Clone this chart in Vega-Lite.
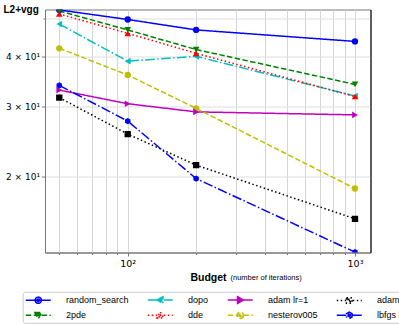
{
  "$schema": "https://vega.github.io/schema/vega-lite/v6.json",
  "width": 325.5,
  "height": 243,
  "autosize": {"type": "none"},
  "padding": {"left": 45, "top": 9.5, "right": 28.5, "bottom": 73.5},
  "background": "white",
  "config": {"view": {"stroke": "#777777", "strokeWidth": 1}, "font": "Liberation Sans"},
  "data": {
    "values": [
      {"series": "random_search", "budget": 50, "value": 52.4},
      {"series": "random_search", "budget": 100, "value": 49.6},
      {"series": "random_search", "budget": 200, "value": 46.7},
      {"series": "random_search", "budget": 1000, "value": 43.7},
      {"series": "2pde", "budget": 50, "value": 52.1},
      {"series": "2pde", "budget": 100, "value": 46.7},
      {"series": "2pde", "budget": 200, "value": 41.7},
      {"series": "2pde", "budget": 1000, "value": 34.1},
      {"series": "dopo", "budget": 50, "value": 48.3},
      {"series": "dopo", "budget": 100, "value": 39.0},
      {"series": "dopo", "budget": 200, "value": 40.1},
      {"series": "dopo", "budget": 1000, "value": 31.9},
      {"series": "dde", "budget": 50, "value": 51.2},
      {"series": "dde", "budget": 100, "value": 45.8},
      {"series": "dde", "budget": 200, "value": 40.8},
      {"series": "dde", "budget": 1000, "value": 31.8},
      {"series": "adam lr=1", "budget": 50, "value": 33.0},
      {"series": "adam lr=1", "budget": 100, "value": 30.5},
      {"series": "adam lr=1", "budget": 200, "value": 29.1},
      {"series": "adam lr=1", "budget": 1000, "value": 28.6},
      {"series": "nesterov005", "budget": 50, "value": 42.0},
      {"series": "nesterov005", "budget": 100, "value": 36.0},
      {"series": "nesterov005", "budget": 200, "value": 29.7},
      {"series": "nesterov005", "budget": 1000, "value": 18.7},
      {"series": "adam lr=005", "budget": 50, "value": 31.6},
      {"series": "adam lr=005", "budget": 100, "value": 25.6},
      {"series": "adam lr=005", "budget": 200, "value": 21.4},
      {"series": "adam lr=005", "budget": 1000, "value": 15.7},
      {"series": "lbfgs lr=1", "budget": 50, "value": 33.9},
      {"series": "lbfgs lr=1", "budget": 100, "value": 27.6},
      {"series": "lbfgs lr=1", "budget": 200, "value": 19.8},
      {"series": "lbfgs lr=1", "budget": 1000, "value": 12.95}
    ]
  },
  "resolve": {"axis": {"x": "independent", "y": "independent"}},
  "layer": [
    {
      "mark": {"type": "line", "strokeWidth": 1.5, "clip": true},
      "encoding": {
        "x": {
          "field": "budget", "type": "quantitative",
          "scale": {"type": "log", "domain": [43.27, 1170], "nice": false, "zero": false},
          "axis": {
            "values": [50, 60, 70, 80, 90, 100, 200, 300, 400, 500, 600, 700, 800, 900, 1000],
            "labelExpr": "datum.value == 100 ? '10²' : datum.value == 1000 ? '10³' : ''",
            "grid": true, "gridColor": "#d6d6d6", "gridWidth": 1,
            "tickColor": "#777777",
            "tickSize": {"condition": {"test": "datum.value == 100 || datum.value == 1000", "value": 3.5}, "value": 2},
            "domainColor": "#777777",
            "labelFont": "DejaVu Sans", "labelFontSize": 9.5, "labelColor": "black", "labelPadding": 2,
            "labelFlush": false, "labelOverlap": false, "labelBound": false,
            "title": "Budget", "titleFont": "Liberation Sans", "titleFontWeight": "bold", "titleFontSize": 10.5,
            "titleColor": "black", "titleBaseline": "middle", "titleAlign": "center", "titleX": 163, "titleY": 25
          }
        },
        "y": {
          "field": "value", "type": "quantitative",
          "scale": {"type": "log", "domain": [12.925, 52.54], "nice": false, "zero": false},
          "axis": {
            "values": [20, 30, 40, 50],
            "labelExpr": "datum.value == 50 ? '' : (datum.value / 10) + ' × 10¹'",
            "grid": true, "gridColor": "#dedede", "gridWidth": 1,
            "tickColor": "#777777",
            "tickSize": {"condition": {"test": "datum.value == 50", "value": 2}, "value": 3.5},
            "domainColor": "#777777",
            "labelFont": "DejaVu Sans", "labelFontSize": 9, "labelColor": "black", "labelPadding": 2,
            "labelOverlap": false, "labelBound": false, "labelFlush": false,
            "title": "L2+vgg", "titleFont": "Liberation Sans", "titleFontWeight": "bold", "titleFontSize": 10,
            "titleColor": "black", "titleAngle": 0, "titleAlign": "left", "titleBaseline": "middle",
            "titleX": -42, "titleY": -0.5
          }
        },
        "color": {
          "field": "series", "type": "nominal",
          "scale": {
            "domain": ["random_search", "dopo", "adam lr=1", "adam lr=005", "2pde", "dde", "nesterov005", "lbfgs lr=1"],
            "range": ["#0000ff", "#00bfbf", "#bf00bf", "#000000", "#008000", "#ff0000", "#bfbf00", "#0000ff"]
          },
          "legend": {
            "title": null, "orient": "none", "legendX": -22.3, "legendY": 282.3,
            "direction": "horizontal", "columns": 4, "symbolLimit": 0,
            "symbolSize": 156.25, "symbolOffset": 7.55, "labelOffset": 20.8, "symbolOpacity": 1, "symbolStrokeWidth": 1.5,
            "columnPadding": 16, "rowPadding": 1.5, "padding": 1,
            "strokeColor": "#cccccc", "cornerRadius": 2, "fillColor": "white",
            "labelFont": "Liberation Sans", "labelFontSize": 9, "labelColor": "black"
          }
        },
        "strokeDash": {
          "field": "series", "type": "nominal",
          "scale": {
            "domain": ["random_search", "dopo", "adam lr=1", "adam lr=005", "2pde", "dde", "nesterov005", "lbfgs lr=1"],
            "range": [[1, 0], [9.6, 2.4, 1.5, 2.4], [1, 0], [1.5, 2.5], [5.5, 2.4], [1.5, 2.5], [5.5, 2.4], [9.6, 2.4, 1.5, 2.4]]
          },
          "legend": {
            "title": null, "orient": "none", "legendX": -22.3, "legendY": 282.3,
            "direction": "horizontal", "columns": 4, "symbolLimit": 0,
            "symbolSize": 156.25, "symbolOffset": 7.55, "labelOffset": 20.8, "symbolOpacity": 1, "symbolStrokeWidth": 1.5,
            "columnPadding": 16, "rowPadding": 1.5, "padding": 1,
            "strokeColor": "#cccccc", "cornerRadius": 2, "fillColor": "white",
            "labelFont": "Liberation Sans", "labelFontSize": 9, "labelColor": "black"
          }
        }
      }
    },
    {
      "transform": [{"filter": {"field": "series", "oneOf": ["random_search", "nesterov005"]}}],
      "mark": {"type": "point", "shape": "circle", "filled": true, "size": 40, "opacity": 1, "clip": true},
      "encoding": {
        "x": {
          "field": "budget", "type": "quantitative",
          "axis": {
            "orient": "bottom", "labels": false, "ticks": false, "grid": false, "domain": false,
            "title": "(number of iterations)", "titleFont": "Liberation Sans", "titleFontWeight": "normal",
            "titleFontSize": 7.5, "titleColor": "black", "titleAlign": "left", "titleBaseline": "middle",
            "titleX": 185, "titleY": 25
          }
        },
        "y": {
          "field": "value", "type": "quantitative",
          "axis": {"orient": "right", "labels": false, "ticks": false, "grid": false, "domainColor": "black", "title": null}
        },
        "color": {"field": "series", "type": "nominal", "legend": null}
      }
    },
    {
      "transform": [{"filter": {"field": "series", "equal": "dopo"}}],
      "mark": {"type": "point", "shape": "triangle-left", "filled": true, "size": 44, "opacity": 1, "clip": true},
      "encoding": {
        "x": {"field": "budget", "type": "quantitative", "axis": null},
        "y": {"field": "value", "type": "quantitative", "axis": null},
        "color": {"field": "series", "type": "nominal", "legend": null}
      }
    },
    {
      "transform": [{"filter": {"field": "series", "equal": "adam lr=1"}}],
      "mark": {"type": "point", "shape": "triangle-right", "filled": true, "size": 44, "opacity": 1, "clip": true},
      "encoding": {
        "x": {"field": "budget", "type": "quantitative", "axis": null},
        "y": {"field": "value", "type": "quantitative", "axis": null},
        "color": {"field": "series", "type": "nominal", "legend": null}
      }
    },
    {
      "transform": [{"filter": {"field": "series", "equal": "adam lr=005"}}],
      "mark": {"type": "point", "shape": "square", "filled": true, "size": 40, "opacity": 1, "clip": true},
      "encoding": {
        "x": {"field": "budget", "type": "quantitative", "axis": null},
        "y": {"field": "value", "type": "quantitative", "axis": null},
        "color": {"field": "series", "type": "nominal", "legend": null}
      }
    },
    {
      "transform": [{"filter": {"field": "series", "equal": "2pde"}}],
      "mark": {"type": "point", "shape": "triangle-down", "filled": true, "size": 44, "opacity": 1, "clip": true},
      "encoding": {
        "x": {"field": "budget", "type": "quantitative", "axis": null},
        "y": {"field": "value", "type": "quantitative", "axis": null},
        "color": {"field": "series", "type": "nominal", "legend": null}
      }
    },
    {
      "transform": [{"filter": {"field": "series", "equal": "dde"}}],
      "mark": {"type": "point", "shape": "triangle-up", "filled": true, "size": 44, "opacity": 1, "clip": true},
      "encoding": {
        "x": {"field": "budget", "type": "quantitative", "axis": null},
        "y": {"field": "value", "type": "quantitative", "axis": null},
        "color": {"field": "series", "type": "nominal", "legend": null}
      }
    },
    {
      "transform": [{"filter": {"field": "series", "equal": "lbfgs lr=1"}}],
      "mark": {"type": "point", "shape": "M0,-1L0.866,-0.5L0.866,0.5L0,1L-0.866,0.5L-0.866,-0.5Z", "filled": true, "size": 40, "opacity": 1, "clip": true},
      "encoding": {
        "x": {"field": "budget", "type": "quantitative", "axis": null},
        "y": {"field": "value", "type": "quantitative", "axis": null},
        "color": {"field": "series", "type": "nominal", "legend": null}
      }
    },
    {
      "mark": {"type": "point", "filled": true, "size": 0, "opacity": 0},
      "encoding": {
        "x": {"field": "budget", "type": "quantitative", "axis": null},
        "y": {"field": "value", "type": "quantitative", "axis": null},
        "color": {"field": "series", "type": "nominal"},
        "stroke": {
          "field": "series", "type": "nominal",
          "scale": {
            "domain": ["random_search", "dopo", "adam lr=1", "adam lr=005", "2pde", "dde", "nesterov005", "lbfgs lr=1"],
            "range": ["#0000ff", "#00bfbf", "#bf00bf", "#000000", "#008000", "#ff0000", "#bfbf00", "#0000ff"]
          },
          "legend": {
            "title": null, "orient": "none", "legendX": -22.3, "legendY": 282.3,
            "direction": "horizontal", "columns": 4, "symbolLimit": 0,
            "symbolSize": 156.25, "symbolOffset": 7.55, "labelOffset": 20.8, "symbolOpacity": 1, "symbolStrokeWidth": 1.5,
            "columnPadding": 16, "rowPadding": 1.5, "padding": 1,
            "strokeColor": "#cccccc", "cornerRadius": 2, "fillColor": "white",
            "labelFont": "Liberation Sans", "labelFontSize": 9, "labelColor": "black"
          }
        },
        "shape": {
          "field": "series", "type": "nominal",
          "scale": {
            "domain": ["random_search", "dopo", "adam lr=1", "adam lr=005", "2pde", "dde", "nesterov005", "lbfgs lr=1"],
            "range": [
              "M-2,0H2M0.5,0A0.5,0.5,0,1,1,-0.5,0A0.5,0.5,0,1,1,0.5,0ZM0.2,0A0.2,0.2,0,1,1,-0.2,0A0.2,0.2,0,1,1,0.2,0Z",
              "M-2,0H2M-0.54,0L0.44,-0.54L0.44,0.54ZM-0.15,0L0.24,-0.22L0.24,0.22Z",
              "M-2,0H2M0.54,0L-0.44,-0.54L-0.44,0.54ZM0.15,0L-0.24,-0.22L-0.24,0.22Z",
              "M-2,0H2M-0.44,-0.44H0.44V0.44H-0.44ZM-0.18,-0.18H0.18V0.18H-0.18Z",
              "M-2,0H2M-0.54,-0.44H0.54L0,0.54ZM-0.22,-0.24H0.22L0,0.15Z",
              "M-2,0H2M-0.54,0.44H0.54L0,-0.54ZM-0.22,0.24H0.22L0,-0.15Z",
              "M-2,0H2M0.5,0A0.5,0.5,0,1,1,-0.5,0A0.5,0.5,0,1,1,0.5,0ZM0.2,0A0.2,0.2,0,1,1,-0.2,0A0.2,0.2,0,1,1,0.2,0Z",
              "M-2,0H2M0,-0.52L0.45,-0.26V0.26L0,0.52L-0.45,0.26V-0.26ZM0,-0.21L0.18,-0.1V0.1L0,0.21L-0.18,0.1V-0.1Z"
            ]
          },
          "legend": {
            "title": null, "orient": "none", "legendX": -22.3, "legendY": 282.3,
            "direction": "horizontal", "columns": 4, "symbolLimit": 0,
            "symbolSize": 156.25, "symbolOffset": 7.55, "labelOffset": 20.8, "symbolOpacity": 1, "symbolStrokeWidth": 1.5,
            "columnPadding": 16, "rowPadding": 1.5, "padding": 1,
            "strokeColor": "#cccccc", "cornerRadius": 2, "fillColor": "white",
            "labelFont": "Liberation Sans", "labelFontSize": 9, "labelColor": "black"
          }
        },
        "strokeDash": {"field": "series", "type": "nominal"}
      }
    }
  ]
}
